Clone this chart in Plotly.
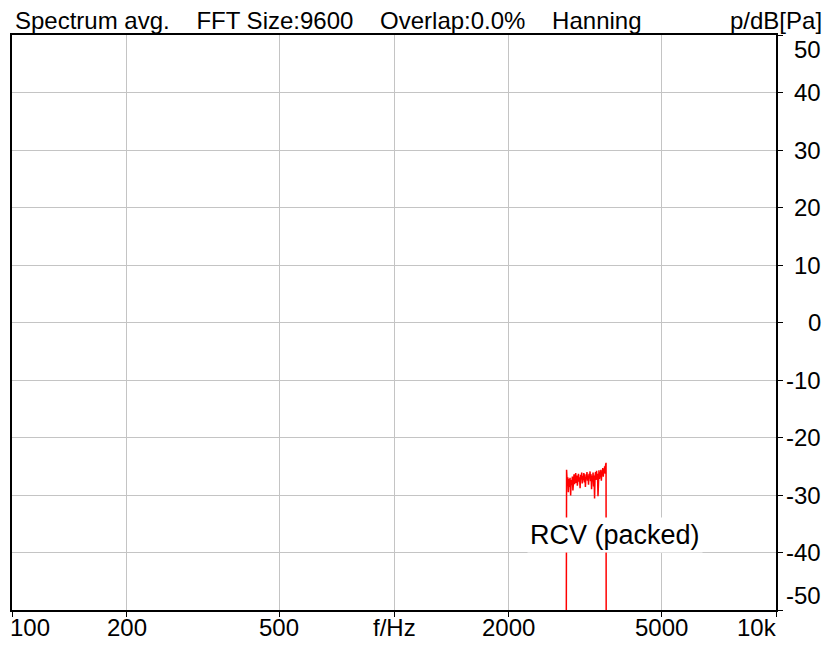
import numpy as np
import plotly.graph_objects as go

# spectrum band of the received signal (Hz, dB re Pa)
freqs = [2820, 2824, 2827, 2830, 2840, 2850, 2860, 2870, 2880, 2890, 2900,
         2910, 2920, 2930, 2940, 2950, 2960, 2970, 2980, 2990, 3000,
         3010, 3020, 3030, 3040, 3050, 3060, 3070, 3080, 3090, 3100,
         3110, 3120, 3130, 3140, 3150, 3160, 3170, 3180, 3190, 3200,
         3210, 3220, 3230, 3240, 3250, 3260, 3270, 3280, 3290, 3300,
         3310, 3320, 3330, 3340, 3350, 3360, 3370, 3380, 3390, 3400,
         3410, 3420, 3430, 3440, 3450, 3460, 3470, 3480, 3490, 3500,
         3510, 3520, 3530, 3540, 3550, 3560, 3570, 3580, 3590, 3596]
levels = [-80.0, -27.5, -80.0, -25.6, -27.8, -26.9, -29.5, -27.2, -28.6, -27.0, -30.1,
          -27.4, -28.3, -26.8, -29.2, -27.5, -26.4, -28.1, -27.0, -26.2, -27.9,
          -26.6, -28.4, -27.1, -26.3, -27.7, -26.9, -28.8, -26.5, -27.3, -26.1,
          -28.0, -26.7, -27.4, -26.2, -27.8, -26.4, -28.6, -26.9, -27.2, -26.0,
          -27.5, -26.6, -28.2, -26.3, -27.1, -25.9, -27.6, -26.4, -29.0, -26.7,
          -27.3, -26.1, -28.5, -26.6, -30.6, -26.8, -26.0, -27.4, -25.8, -27.0,
          -26.3, -30.2, -26.5, -25.7, -27.2, -26.0, -26.9, -25.6, -27.5, -25.9,
          -26.4, -25.3, -26.8, -25.5, -26.1, -25.0, -26.3, -24.8, -24.4, -80.0]

x_ticks = [100, 200, 500, 1000, 2000, 5000, 10000]
x_labels = ["100", "200", "500", "f/Hz", "2000", "5000", "10k"]
y_ticks = [-50, -40, -30, -20, -10, 0, 10, 20, 30, 40, 50]

gap = "\u00a0" * 3 + " "
title_text = "Spectrum avg." + gap + "FFT Size:9600" + gap + "Overlap:0.0%" + gap + "Hanning"
unit_text = "p/dB[Pa]"
trace_label = "RCV (packed)"
label_freq = 3800
label_db = -37

font = "Liberation Sans, Arial, sans-serif"

fig = go.Figure()
fig.add_trace(
    go.Scatter(
        x=freqs,
        y=levels,
        mode="lines",
        line=dict(color="#ff0000", width=1.5),
        showlegend=False,
    )
)

# x tick labels (end labels pushed inside the frame)
for f, lab in zip(x_ticks, x_labels):
    anchor, xs = "center", 0
    if f == x_ticks[0]:
        anchor, xs = "left", -4
    elif f == x_ticks[-1]:
        anchor, xs = "right", 3
    fig.add_annotation(
        x=np.log10(f), y=0, xref="x", yref="paper",
        text=lab, showarrow=False, xanchor=anchor, yanchor="top",
        xshift=xs, yshift=-2, font=dict(size=24, color="black", family=font),
    )

# y tick labels on the right
for v in y_ticks:
    shift = 0
    if v == y_ticks[-1]:
        shift = -14
    elif v == y_ticks[0]:
        shift = 15
    fig.add_annotation(
        x=1, y=v, xref="paper", yref="y",
        text=str(v), showarrow=False, xanchor="right", yanchor="middle",
        xshift=47, yshift=shift, font=dict(size=24, color="black", family=font),
    )

fig.add_annotation(
    x=0, y=1, xref="paper", yref="paper", text=title_text, showarrow=False,
    xanchor="left", yanchor="bottom", xshift=2, yshift=0, borderpad=0,
    font=dict(size=24, color="black", family=font),
)
fig.add_annotation(
    x=1, y=1, xref="paper", yref="paper", text=unit_text, showarrow=False,
    xanchor="right", yanchor="bottom", xshift=47, yshift=0, borderpad=0,
    font=dict(size=24, color="black", family=font),
)
fig.add_annotation(
    x=np.log10(label_freq), y=label_db, text=trace_label, showarrow=False,
    bgcolor="white", borderpad=2, font=dict(size=27, color="black", family=font),
)

fig.update_xaxes(
    type="log", range=[2, 4], tickvals=x_ticks, showticklabels=False,
    showgrid=True, gridcolor="#c4c4c4", gridwidth=1,
    showline=True, linecolor="black", linewidth=1.5, mirror=True,
    ticks="outside", ticklen=5, tickcolor="black", zeroline=False,
)
fig.update_yaxes(
    range=[-50, 50], tickvals=y_ticks, showticklabels=False, side="right",
    showgrid=True, gridcolor="#c4c4c4", gridwidth=1,
    showline=True, linecolor="black", linewidth=1.5, mirror=True,
    ticks="outside", ticklen=5, tickcolor="black", zeroline=False,
)
# the page body adds an 8px margin, so the figure is shifted and made smaller
fig.update_layout(
    width=815, height=637,
    margin=dict(l=2, r=47, t=27, b=35),
    plot_bgcolor="white", paper_bgcolor="white",
    font=dict(family=font),
)

fig.write_html("out.html")
